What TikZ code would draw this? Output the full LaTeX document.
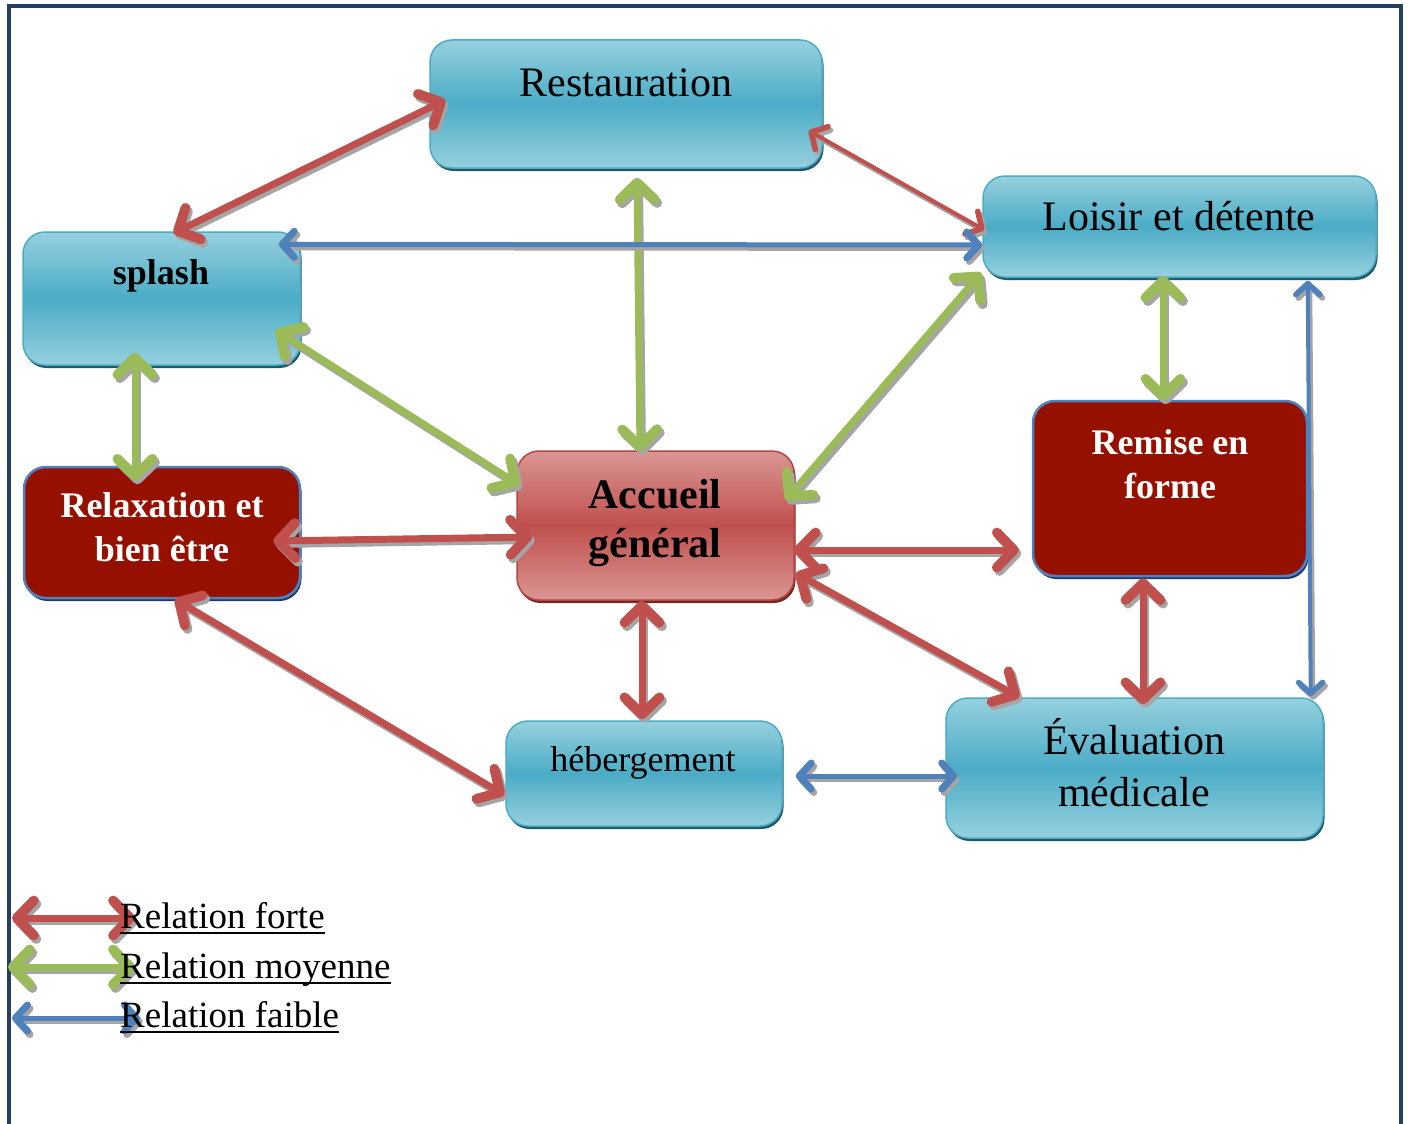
\documentclass[tikz,border=0pt]{standalone}
\usepackage{fontspec}
\setmainfont{Liberation Serif}
\usetikzlibrary{arrows.meta,shadows}
\definecolor{bluetop}{RGB}{150,208,222}
\definecolor{bluemid}{RGB}{75,172,198}
\definecolor{bluebd}{RGB}{75,172,198}
\definecolor{blueshadow}{RGB}{33,89,104}
\definecolor{redtop}{RGB}{218,150,148}
\definecolor{redmid}{RGB}{192,80,77}
\definecolor{redbd}{RGB}{180,70,68}
\definecolor{redshadow}{RGB}{120,40,38}
\definecolor{darkredfill}{RGB}{150,16,0}
\definecolor{navybd}{RGB}{79,129,189}
\definecolor{navyshadow}{RGB}{31,56,100}
\definecolor{relred}{RGB}{192,80,77}
\definecolor{relgreen}{RGB}{155,187,89}
\definecolor{relblue}{RGB}{79,129,189}
\definecolor{shadowgray}{RGB}{165,165,165}
\definecolor{framecol}{RGB}{36,63,96}
\newcommand\relation[3]{%
  \draw[#1,draw=shadowgray,transform canvas={shift={(2.5pt,-3.5pt)}}] #2 -- #3;
  \draw[#1] #2 -- #3;}
\tikzset{
  bigtip/.tip={Straight Barb[length=17pt,width=35pt,line width=0pt 1.4,round]},
  midtip/.tip={Straight Barb[length=12pt,width=26pt,line width=0pt 1.4,round]},
  smalltip/.tip={Straight Barb[length=12pt,width=26pt,line width=0pt 1.4,round]},
  thintip/.tip={Straight Barb[length=11pt,width=24pt,line width=0pt 1.4,round]},
  box/.style={rectangle, rounded corners=22pt, inner sep=0pt, line width=1.5pt},
  bluebox/.style={box, draw=bluebd, top color=bluetop, bottom color=bluetop, middle color=bluemid,
    drop shadow={shadow xshift=1.5pt, shadow yshift=-3pt, fill=blueshadow, opacity=1}},
  redbox/.style={box, draw=redbd, top color=redtop, bottom color=redtop, middle color=redmid,
    drop shadow={shadow xshift=1.5pt, shadow yshift=-3pt, fill=redshadow, opacity=1}},
  darkbox/.style={box, draw=navybd, line width=2.5pt, fill=darkredfill,
    drop shadow={shadow xshift=1.5pt, shadow yshift=-3pt, fill=navyshadow, opacity=1}},
  txtL/.style={font=\fontsize{42}{52}\selectfont, align=center, inner sep=0pt, text=black},
  txtM/.style={font=\fontsize{36}{44}\selectfont, align=center, inner sep=0pt, text=black},
  txtB/.style={font=\fontsize{36}{44}\selectfont\bfseries, align=center, inner sep=0pt},
  txtAcc/.style={font=\fontsize{42}{49}\selectfont\bfseries, align=center, inner sep=0pt, text=black},
  legtxt/.style={font=\fontsize{37}{44}\selectfont, anchor=base west, inner sep=0pt, text=black},
  redrel/.style={draw=relred, line width=7pt, arrows={bigtip-bigtip}},
  redthin/.style={draw=relred, line width=4pt, arrows={midtip-midtip}},
  greenrel/.style={draw=relgreen, line width=7pt, arrows={bigtip-bigtip}},
  bluerel/.style={draw=relblue, line width=5pt, arrows={smalltip-smalltip}},
  bluethin/.style={draw=relblue, line width=4pt, arrows={thintip-thintip}},
}
\begin{document}
\begin{tikzpicture}[x=1pt,y=-1pt]
\useasboundingbox (0,0) rectangle (1411,1124);
\fill[white] (0,0) rectangle (1411,1124);
\draw[framecol, line width=4pt] (9,1124) -- (9,6) -- (1401,6) -- (1401,1124);

% boxes
\node[bluebox, minimum width=392pt, minimum height=128pt] (rest) at (626,104) {};
\node[txtL] (restT) at (626,83) {Restauration};
\node[bluebox, minimum width=277pt, minimum height=133pt] (splash) at (161.5,298.5) {};
\node[txtB, text=black] (splashT) at (161,276) {splash};
\node[bluebox, minimum width=393pt, minimum height=101pt] (loisir) at (1179.5,226.5) {};
\node[txtL] (loisirT) at (1179,216) {Loisir et détente};
\node[darkbox, minimum width=274pt, minimum height=175pt] (remise) at (1170,488.5) {};
\node[txtB, text=white] (remiseT) at (1170,464) {Remise en\\forme};
\node[darkbox, minimum width=276pt, minimum height=131pt] (relax) at (162,532.5) {};
\node[txtB, text=white] (relaxT) at (162,527) {Relaxation et\\bien être};
\node[redbox, minimum width=277pt, minimum height=149pt] (accueil) at (655.5,525.5) {};
\node[txtAcc] (accueilT) at (655,523) {Accueil\\général};
\node[bluebox, minimum width=276pt, minimum height=105pt] (heberg) at (644,773.5) {};
\node[txtM] (hebergT) at (643,763) {hébergement};
\node[bluebox, minimum width=377pt, minimum height=140pt] (eval) at (1134.5,768) {};
\node[txtL] (evalT) at (1134,763) {Évaluation\\médicale};

% red relations
\relation{redrel}{([xshift=12pt,yshift=-2pt]splash.north)}{([xshift=16pt,yshift=4pt]rest.west)}
\relation{redthin}{([xshift=-14pt,yshift=38pt]rest.south east)}{([xshift=2pt,yshift=-3.5pt]loisir.west)}
\relation{redrel}{([xshift=-28pt,yshift=-8.5pt]relax.east)}{([xshift=16pt,yshift=-11.5pt]accueil.west)}
\relation{redrel}{([xshift=-1pt,yshift=-24.5pt]accueil.east)}{([xshift=-13pt,yshift=-61.5pt]remise.west)}
\relation{redrel}{([xshift=1pt,yshift=-47.5pt]accueil.east)}{([xshift=74pt]eval.north west)}
\relation{redrel}{([xshift=-13.5pt]accueil.south)}{([xshift=-2pt,yshift=1pt]heberg.north)}
\relation{redrel}{([xshift=13pt]relax.south)}{([xshift=-1pt,yshift=-21.5pt]heberg.west)}
\relation{redrel}{([xshift=-27pt,yshift=-1pt]remise.south)}{([xshift=8.5pt,yshift=-7pt]eval.north)}

% green relations
\relation{greenrel}{([xshift=11pt,yshift=-9pt]rest.south)}{([xshift=-15.5pt,yshift=-1pt]accueil.north)}
\relation{greenrel}{([xshift=-25pt,yshift=-31.5pt]splash.east)}{([xshift=3pt,yshift=40.5pt]accueil.west)}
\relation{greenrel}{([xshift=-1pt,yshift=5pt]loisir.south west)}{([xshift=-9pt,yshift=25.5pt]accueil.east)}
\relation{greenrel}{([xshift=-26.5pt,yshift=13pt]splash.south)}{([xshift=-27pt,yshift=-15pt]relax.north)}
\relation{greenrel}{([xshift=-16.5pt,yshift=2pt]loisir.south)}{([xshift=-7pt,yshift=-1pt]remise.north)}

% blue relations
\relation{bluerel}{([xshift=-22pt,yshift=-13pt]splash.north east)}{([yshift=-18.5pt]loisir.west)}
\relation{bluethin}{([xshift=-69pt,yshift=-3pt]loisir.south east)}{([xshift=-13pt,yshift=1pt]eval.north east)}
\relation{bluerel}{([xshift=13pt,yshift=-2.5pt]heberg.east)}{([xshift=12pt,yshift=-8pt]eval.west)}

% legend
\coordinate (lra) at (12,918);
\coordinate (lrb) at (135,918);
\coordinate (lga) at (8,967);
\coordinate (lgb) at (135,967);
\coordinate (lba) at (12,1018);
\coordinate (lbb) at (140,1018);
\relation{redrel}{(lra)}{(lrb)}
\relation{greenrel}{(lga)}{(lgb)}
\relation{bluerel}{(lba)}{(lbb)}
\node[legtxt] (l1) at (120,928) {Relation forte};
\node[legtxt] (l2) at (120,978) {Relation moyenne};
\node[legtxt] (l3) at (120,1027) {Relation faible};
\draw[line width=2pt] ([yshift=-5pt]l1.base west) -- ([yshift=-5pt]l1.base east);
\draw[line width=2pt] ([yshift=-5pt]l2.base west) -- ([yshift=-5pt]l2.base east);
\draw[line width=2pt] ([yshift=-5pt]l3.base west) -- ([yshift=-5pt]l3.base east);
\end{tikzpicture}
\end{document}
